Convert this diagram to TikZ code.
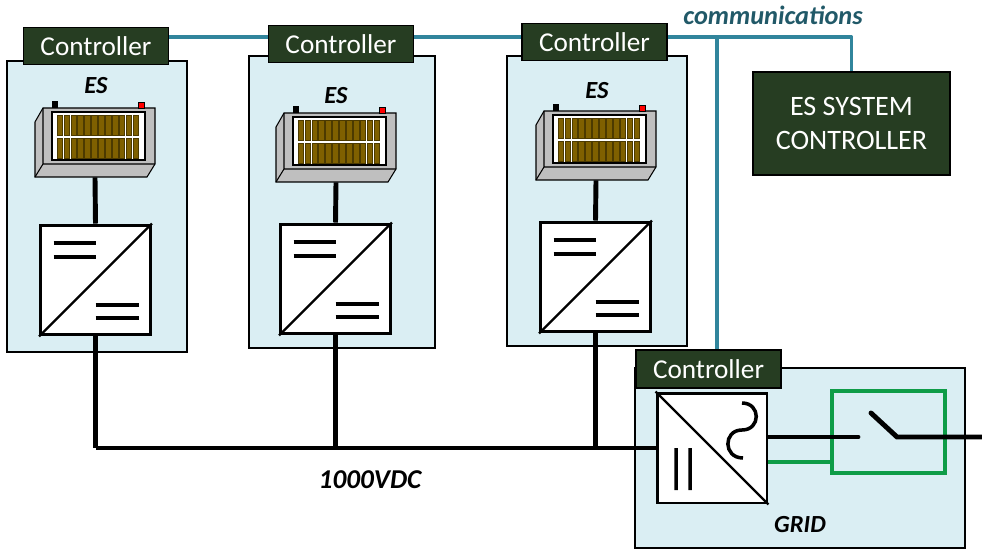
\documentclass[tikz,border=0pt]{standalone}
\usepackage{fontspec}
\setmainfont{Carlito}

\definecolor{esblue}{HTML}{DAEEF3}
\definecolor{ctrlgreen}{HTML}{263D22}
\definecolor{commteal}{HTML}{31859C}
\definecolor{commtext}{HTML}{215968}
\definecolor{swgreen}{HTML}{0E9C47}
\definecolor{batgray}{HTML}{BFBFBF}
\definecolor{cellbrown}{HTML}{7F6000}

\tikzset{
  esbox/.style={draw, fill=esblue, line width=0.7pt, inner sep=0},
  ctrl/.style={draw, fill=ctrlgreen, text=white, line width=0.7pt,
    minimum width=2.9cm, minimum height=0.74cm, inner sep=0,
    font=\fontsize{15.5}{18}\selectfont},
  conv/.style={draw, fill=white, line width=1.7pt, minimum size=2.2cm, inner sep=0},
  power/.style={line width=2.8pt},
  comm/.style={commteal, line width=2.2pt, line join=round},
  lbl/.style={font=\fontsize{14}{17}\selectfont\bfseries\itshape},
  % storage pack, origin at the top left corner of its front face
  battery/.pic={
    \node[minimum width=2.4cm, minimum height=1.38cm, inner sep=0] (-body) at (60,34.5) {};
    \filldraw[fill=batgray, line width=0.6pt]
      (0,14) -- (8,0) -- (120,0) -- (120,56) -- (112,69) -- (0,69) -- cycle;
    \draw[line width=0.6pt] (8,0) -- (8,56) -- (120,56) (8,56) -- (0,69);
    \filldraw[fill=white, line width=0.6pt] (17,4) rectangle (110,52);
    \foreach \i in {0,...,11} {
      \filldraw[fill=cellbrown, draw=cellbrown!60!black, line width=0.3pt]
        ({22+\i*6.9},7) rectangle +(5.6,20);
      \filldraw[fill=cellbrown, draw=cellbrown!60!black, line width=0.3pt]
        ({22+\i*6.9},30) rectangle +(5.6,20);
    }
    \fill (17,-7) rectangle (23,0);
    \filldraw[fill=red, line width=0.4pt] (103,-6) rectangle (109,0);
  }
}

\begin{document}
\begin{tikzpicture}[x=0.02cm, y=-0.02cm]
  \useasboundingbox (0,0) rectangle (982,550);

  % storage cabinets
  \node[esbox, minimum width=3.6cm, minimum height=5.82cm] (es1) at (97,206.5) {};
  \node[esbox, minimum width=3.72cm, minimum height=5.84cm] (es2) at (342,202) {};
  \node[esbox, minimum width=3.6cm, minimum height=5.8cm] (es3) at (597,201) {};
  \node[esbox, minimum width=6.6cm, minimum height=3.6cm] (gridbox) at (800,458) {};

  % communication bus
  \coordinate (commy) at (0,37);
  \coordinate (tap) at (717,37);
  \node[ctrl, minimum width=3.94cm, minimum height=2.06cm, align=center,
    font=\fontsize{16}{19}\selectfont] (sysctrl) at (851.5,123.5) {ES SYSTEM\\CONTROLLER};
  \draw[comm] (96,37) -- (594,37);
  \draw[comm] (594,37) -- (sysctrl.north |- commy) -- (sysctrl.north);
  \draw[comm] (tap) -- (717,369);
  \node[font=\fontsize{15}{18}\selectfont\bfseries\itshape, text=commtext] (commlbl) at (773,15) {communications};

  \node[ctrl] (ctrl1) at (96,46) {Controller};
  \node[ctrl] (ctrl2) at (341,44) {Controller};
  \node[ctrl] (ctrl3) at (594.5,42) {Controller};
  \node[ctrl, minimum height=0.76cm] (gridctrl) at (708.5,369) {Controller};

  \node[lbl] (eslbl1) at (96,86) {ES};
  \node[lbl] (eslbl2) at (336,96) {ES};
  \node[lbl] (eslbl3) at (597,91) {ES};

  \pic (bat1) at (35,108) {battery};
  \pic (bat2) at (276,113) {battery};
  \pic (bat3) at (536,111) {battery};

  % DC/DC converters
  \node[conv] (conv1) at (95.5,280) {};
  \node[conv] (conv2) at (335.5,279) {};
  \node[conv] (conv3) at (595.5,277) {};
  \foreach \c in {conv1,conv2,conv3} {
    \draw[line width=1.3pt] (\c.south west) -- (\c.north east);
    \draw[line width=2pt, shift={(\c.center)}]
      (-42,-37) -- (0,-37) (-42,-23) -- (0,-23)
      (0,25) -- (43,25) (0,38) -- (43,38);
  }

  % DC/AC converter
  \node[conv] (gridconv) at (712,448) {};
  \draw[line width=1.3pt] (gridconv.north west) -- (gridconv.south east);
  \draw[line width=2pt, shift={(gridconv.center)}]
    (-36,0) -- (-36,42) (-22,0) -- (-22,42)
    (30,-45) .. controls (49,-45) and (49,-18) .. (30,-18)
    .. controls (11,-18) and (11,10) .. (31,10);

  % grid switch
  \node[draw=swgreen, line width=2pt, minimum width=2.26cm, minimum height=1.64cm, inner sep=0]
    (switch) at (888.5,432) {};
  \coordinate (contact) at (858,437);
  \coordinate (pivot) at (897,437);
  \coordinate (gridend) at (982,437);
  \draw[power, line cap=round] (871,413) -- (pivot) -- (gridend);
  \draw[power, line cap=round] (gridconv.east |- contact) -- (contact);
  \draw[swgreen, line width=2pt] (gridconv.east |- 0,462) -- (switch.west |- 0,462);

  % power wiring
  \foreach \i in {1,2,3} {
    \draw[power] (bat\i-body.south) -- (conv\i.north);
  }
  \draw[power] (conv1.south) -- (conv1.south |- gridconv.west);
  \draw[power] (conv2.south) -- (conv2.south |- gridconv.west);
  \draw[power] (conv3.south) -- (conv3.south |- gridconv.west);
  \draw[line width=2.2pt] (conv1.south |- gridconv.west) -- (gridconv.west);

  \node[lbl, font=\fontsize{15.5}{18}\selectfont\bfseries\itshape] (buslbl) at (370,480) {1000VDC};
  \node[lbl] (gridlbl) at (800,525) {GRID};
\end{tikzpicture}
\end{document}
